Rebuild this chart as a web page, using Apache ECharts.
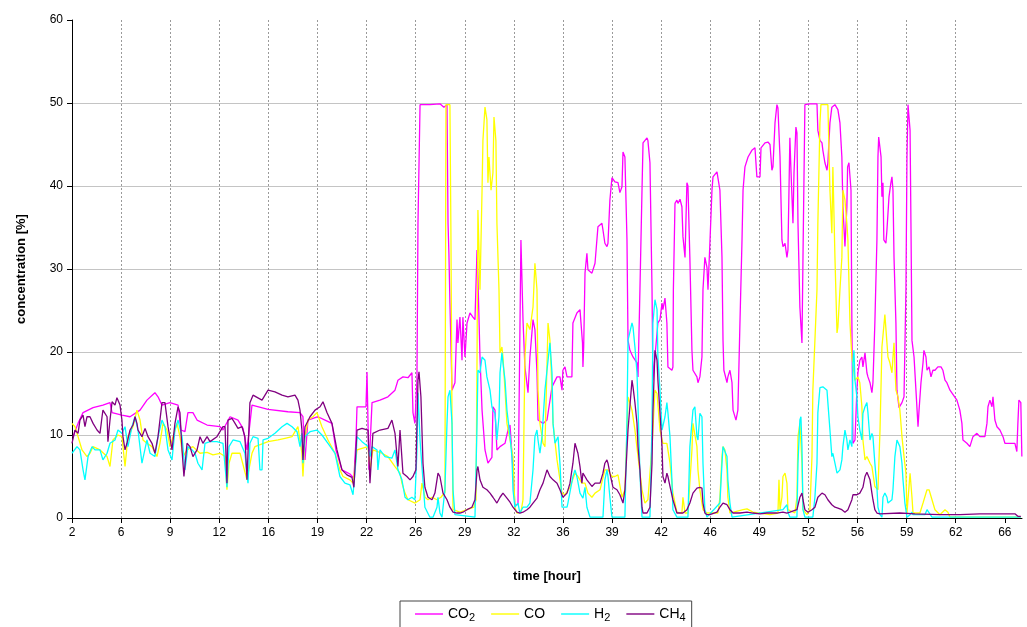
<!DOCTYPE html>
<html>
<head>
<meta charset="utf-8">
<title>Gas concentration over time</title>
<script src="https://cdn.jsdelivr.net/npm/echarts@6/dist/echarts.min.js"></script>
<style>
  html, body { margin: 0; padding: 0; background: #ffffff; }
  #chart { width: 1027px; height: 627px; }
</style>
</head>
<body>
<div id="chart"></div>
<script>
// Tick labels printed under the vertical gridlines (one every 10/3 h)
const tickLabels = ['2', '6', '9', '12', '16', '19', '22', '26', '29', '32', '36', '39', '42', '46', '49', '52', '56', '59', '62', '66'];
const firstTickHour = 2;
const hoursPerTick = 10 / 3;
const lastTickSpan = 19.35; // axis runs a little past the last labelled gridline

const seriesNames = ['CO2', 'CO', 'H2', 'CH4'];
const seriesColors = ['#ff00ff', '#ffff00', '#00ffff', '#800080'];

// [time in hours, concentration in %]
const co2Data = [[2.07,9.8],[2.41,11.4],[2.75,12.7],[3.43,13.3],[4.1,13.6],[4.58,13.9],[4.72,12.7],[5.39,12.4],[5.94,12.2],[6.62,13.0],[7.09,14.2],[7.63,15.1],[7.84,14.6],[8.11,13.6],[8.65,13.9],[9.2,13.6],[9.4,10.6],[9.67,10.4],[9.87,12.7],[10.21,12.7],[10.49,11.8],[11.17,11.2],[12.05,11.0],[12.25,10.6],[12.73,12.2],[13.27,11.8],[13.61,10.8],[13.88,8.2],[14.22,13.6],[15.31,13.1],[16.66,12.8],[17.48,12.7],[17.68,12.2],[17.82,7.0],[18.02,11.8],[18.7,12.2],[19.18,11.8],[19.65,11.4],[19.92,8.2],[20.33,5.8],[20.87,5.3],[21.14,4.8],[21.28,9.4],[21.35,13.4],[21.96,13.4],[22.03,17.6],[22.16,5.8],[22.37,13.9],[22.91,14.2],[23.45,14.6],[23.93,15.4],[24.13,16.6],[24.47,17.0],[24.81,16.9],[25.08,17.5],[25.15,12.7],[25.28,11.4],[25.42,16.6],[25.49,35.5],[25.63,49.8],[26.3,49.8],[26.98,49.9],[27.25,49.5],[27.46,49.8],[27.53,35.5],[27.59,31.9],[27.66,25.9],[27.8,15.4],[28.0,16.3],[28.14,23.9],[28.2,21.1],[28.34,24.2],[28.48,19.0],[28.54,24.2],[28.68,19.4],[28.82,23.5],[29.02,24.7],[29.22,24.2],[29.36,23.9],[29.5,32.3],[29.56,29.0],[29.7,19.4],[29.84,13.0],[30.04,8.2],[30.24,6.6],[30.51,7.3],[30.58,13.4],[30.72,13.0],[30.85,8.2],[31.06,8.6],[31.4,9.0],[31.6,10.6],[31.74,11.2],[31.94,5.8],[32.07,1.6],[32.28,1.6],[32.48,33.5],[32.62,23.9],[32.75,18.2],[32.96,15.1],[33.09,19.4],[33.3,23.9],[33.43,22.7],[33.57,17.5],[33.64,11.8],[33.98,11.4],[34.25,11.8],[34.59,15.8],[34.93,17.0],[35.13,17.0],[35.27,15.4],[35.33,17.8],[35.47,18.2],[35.61,17.0],[35.94,17.0],[36.01,23.5],[36.28,24.7],[36.49,25.1],[36.62,25.1],[36.66,21.1],[36.69,18.2],[36.74,20.6],[36.83,29.5],[36.96,31.9],[37.03,29.9],[37.3,29.5],[37.51,30.7],[37.71,35.1],[37.98,35.5],[38.05,34.7],[38.18,33.1],[38.32,32.7],[38.39,33.1],[38.52,38.3],[38.66,41.0],[38.86,40.5],[39.07,40.4],[39.2,39.2],[39.34,39.9],[39.41,44.1],[39.54,43.5],[39.68,33.5],[39.75,21.4],[39.88,20.2],[40.09,19.4],[40.36,18.7],[40.43,17.0],[40.56,27.5],[40.7,39.5],[40.77,45.2],[41.04,45.8],[41.1,45.5],[41.24,42.8],[41.38,27.5],[41.44,16.6],[41.78,23.5],[41.92,23.9],[42.06,25.9],[42.12,25.1],[42.26,26.5],[42.39,23.5],[42.46,18.2],[42.73,17.8],[42.8,18.2],[42.83,27.5],[42.94,37.9],[43.07,38.3],[43.14,37.9],[43.28,38.4],[43.41,37.5],[43.48,33.9],[43.62,31.4],[43.75,40.4],[43.82,40.0],[43.95,31.4],[44.09,20.2],[44.16,17.8],[44.43,17.0],[44.5,16.3],[44.63,17.0],[44.77,19.4],[44.84,27.5],[44.97,31.4],[45.11,30.2],[45.18,27.5],[45.31,33.1],[45.45,39.5],[45.52,41.1],[45.79,41.7],[45.86,41.6],[45.99,39.5],[46.13,31.4],[46.2,21.4],[46.26,17.8],[46.47,16.3],[46.53,17.0],[46.67,17.8],[46.81,16.3],[46.88,13.0],[47.08,11.8],[47.21,13.0],[47.35,23.5],[47.49,33.5],[47.56,39.5],[47.69,42.3],[47.9,43.5],[48.16,44.3],[48.37,44.6],[48.5,41.1],[48.71,41.1],[48.78,44.6],[49.05,45.2],[49.25,45.3],[49.39,45.0],[49.52,41.9],[49.59,42.3],[49.73,47.6],[49.86,49.8],[49.93,49.4],[50.07,43.5],[50.2,33.5],[50.27,32.7],[50.41,33.1],[50.54,31.4],[50.61,32.3],[50.74,45.8],[50.82,41.6],[50.95,35.5],[51.02,41.6],[51.15,47.1],[51.22,46.4],[51.29,35.5],[51.42,25.4],[51.56,21.1],[51.63,31.4],[51.76,49.8],[52.1,49.9],[52.58,49.9],[52.64,46.7],[52.78,45.5],[52.92,45.2],[52.98,44.3],[53.12,42.8],[53.26,41.9],[53.32,42.8],[53.46,47.6],[53.59,49.5],[53.8,49.8],[54.0,49.2],[54.14,47.6],[54.27,43.5],[54.34,37.5],[54.48,32.7],[54.61,37.5],[54.66,42.3],[54.75,42.8],[54.89,39.5],[54.95,23.5],[55.02,9.0],[55.16,9.4],[55.29,15.4],[55.36,17.5],[55.49,19.0],[55.63,19.4],[55.7,18.2],[55.84,19.9],[55.97,17.5],[56.04,17.0],[56.18,16.3],[56.31,15.1],[56.38,16.3],[56.51,23.5],[56.65,33.5],[56.72,43.5],[56.77,45.9],[56.93,43.5],[56.99,38.7],[57.06,40.4],[57.12,33.5],[57.26,33.1],[57.33,34.7],[57.47,38.7],[57.6,40.4],[57.67,41.1],[57.74,39.5],[57.81,31.4],[57.94,23.5],[58.01,15.4],[58.15,13.3],[58.35,13.9],[58.49,14.6],[58.62,27.5],[58.69,43.5],[58.76,49.8],[58.9,46.7],[58.96,35.5],[59.03,21.4],[59.17,19.4],[59.3,15.4],[59.44,11.0],[59.51,13.0],[59.64,16.3],[59.78,18.7],[59.84,20.2],[59.98,19.4],[60.05,17.8],[60.19,18.2],[60.32,17.0],[60.45,17.8],[60.59,17.8],[60.79,18.2],[61.0,18.2],[61.13,17.8],[61.27,16.6],[61.4,16.3],[61.61,15.4],[62.08,14.2],[62.28,13.0],[62.42,11.4],[62.49,9.4],[62.76,9.0],[62.96,8.6],[63.17,9.8],[63.44,10.2],[63.64,9.8],[63.98,9.8],[64.12,11.4],[64.19,13.4],[64.32,14.2],[64.46,13.4],[64.53,14.6],[64.66,11.8],[64.8,11.0],[65.0,10.6],[65.21,9.8],[65.34,9.0],[65.54,9.0],[65.81,9.0],[66.02,9.0],[66.15,8.0],[66.22,11.4],[66.29,14.2],[66.42,13.9],[66.49,7.4]];

const coData = [[2.0,11.4],[2.2,11.0],[2.41,9.8],[2.68,8.2],[3.02,7.4],[3.22,7.8],[3.43,8.6],[3.9,8.2],[4.38,7.4],[4.58,6.2],[4.78,9.4],[5.12,10.0],[5.39,9.8],[5.6,6.2],[5.8,9.8],[6.14,11.0],[6.41,13.0],[6.62,11.8],[6.82,9.4],[7.09,9.0],[7.43,8.6],[7.77,7.4],[7.97,9.0],[8.18,11.4],[8.45,10.6],[8.65,8.6],[8.86,9.8],[9.13,11.4],[9.33,9.8],[9.54,7.4],[9.81,8.2],[10.21,8.6],[10.69,7.8],[11.17,7.9],[11.57,7.6],[12.05,7.8],[12.39,7.4],[12.52,3.4],[12.66,6.6],[12.86,7.8],[13.41,7.8],[13.88,4.6],[14.22,7.8],[14.42,8.6],[15.31,9.2],[15.99,9.4],[16.46,9.6],[16.94,9.8],[17.14,10.4],[17.34,11.0],[17.61,7.8],[17.68,5.0],[17.82,9.8],[18.02,11.8],[18.36,12.2],[18.63,12.7],[18.97,11.0],[19.38,9.4],[19.86,7.8],[20.19,5.8],[20.4,5.0],[20.87,4.6],[21.08,4.2],[21.35,8.2],[21.69,8.4],[22.1,8.6],[22.23,5.8],[22.43,8.2],[23.04,7.8],[23.45,7.4],[23.93,6.2],[24.27,5.4],[24.4,4.2],[24.61,3.0],[24.81,2.2],[25.29,1.8],[25.63,2.2],[25.76,4.2],[25.96,2.5],[26.17,2.2],[26.44,2.5],[26.78,2.2],[27.05,2.5],[27.32,3.1],[27.39,49.8],[27.66,49.8],[27.73,33.5],[27.8,11.4],[27.87,1.0],[28.34,0.7],[28.82,1.0],[29.29,1.3],[29.43,2.2],[29.5,19.4],[29.56,37.1],[29.7,27.5],[29.84,39.5],[29.9,45.5],[30.04,49.5],[30.17,48.0],[30.24,40.4],[30.31,43.5],[30.45,39.5],[30.58,41.6],[30.65,48.3],[30.78,45.5],[30.85,35.5],[30.99,27.5],[31.06,19.9],[31.19,20.6],[31.26,19.4],[31.4,15.4],[31.53,11.4],[31.74,9.4],[31.94,7.4],[32.07,1.3],[32.21,0.6],[32.48,0.7],[32.62,2.2],[32.75,19.4],[32.89,23.5],[33.09,22.7],[33.3,25.4],[33.43,30.7],[33.57,27.5],[33.64,15.4],[33.77,11.4],[33.98,9.0],[34.11,8.6],[34.32,23.5],[34.45,21.4],[34.59,15.4],[34.66,11.4],[34.93,7.0],[35.27,3.0],[35.47,2.8],[35.81,3.7],[36.15,5.4],[36.35,5.0],[36.62,4.2],[36.83,4.2],[37.03,3.0],[37.3,2.5],[37.51,3.0],[37.85,3.4],[38.18,5.8],[38.39,5.8],[38.66,5.0],[38.86,5.0],[39.07,5.2],[39.34,2.5],[39.54,3.4],[39.68,10.6],[39.75,14.6],[40.02,13.0],[40.22,10.6],[40.43,7.4],[40.7,3.4],[40.9,1.8],[41.1,2.2],[41.38,8.6],[41.58,15.4],[41.72,15.0],[41.92,10.6],[42.12,9.0],[42.39,9.0],[42.6,6.6],[42.8,3.0],[43.07,0.7],[43.41,0.6],[43.48,2.5],[43.62,0.6],[43.82,0.6],[44.09,8.2],[44.16,11.4],[44.43,8.6],[44.5,5.8],[44.63,3.4],[44.84,1.0],[45.11,0.6],[45.52,0.6],[45.86,0.6],[45.99,2.5],[46.13,7.4],[46.2,8.6],[46.33,8.2],[46.47,5.8],[46.53,2.5],[46.67,0.6],[47.56,1.0],[47.83,1.1],[48.23,0.7],[49.39,0.4],[49.93,0.6],[50.0,4.6],[50.07,1.0],[50.2,2.5],[50.27,5.0],[50.41,5.4],[50.54,4.2],[50.61,1.0],[51.08,0.6],[51.22,2.5],[51.29,9.8],[51.42,11.4],[51.56,6.6],[51.63,1.0],[51.9,0.4],[52.1,1.0],[52.24,7.4],[52.3,15.4],[52.44,21.4],[52.58,27.5],[52.64,35.5],[52.78,47.6],[52.85,49.8],[53.32,49.8],[53.46,39.5],[53.59,34.3],[53.66,42.3],[53.8,31.4],[53.94,22.3],[54.0,23.0],[54.14,27.5],[54.27,31.4],[54.34,39.5],[54.48,38.3],[54.61,35.5],[54.68,33.5],[54.82,23.5],[54.95,19.4],[55.16,16.6],[55.36,17.0],[55.49,16.3],[55.63,13.4],[55.7,9.4],[55.84,7.0],[55.97,7.4],[56.18,6.6],[56.31,6.2],[56.51,3.8],[56.72,3.4],[56.86,10.6],[56.99,20.6],[57.19,24.5],[57.33,21.1],[57.4,19.4],[57.53,18.7],[57.67,17.5],[57.74,19.4],[57.81,21.1],[57.94,15.4],[58.08,14.6],[58.21,13.0],[58.35,9.8],[58.49,7.4],[58.62,5.4],[58.69,0.6],[58.9,5.4],[59.03,2.5],[59.1,0.6],[59.57,0.6],[59.78,1.8],[60.05,3.4],[60.19,3.4],[60.39,2.2],[60.59,1.0],[60.93,0.4],[61.27,1.0],[61.47,0.7],[61.61,0.1],[66.42,0.1]];

const h2Data = [[2.0,7.8],[2.34,8.6],[2.54,8.2],[2.75,5.8],[2.88,4.6],[3.09,7.4],[3.36,8.6],[3.56,8.2],[3.9,8.2],[4.1,7.0],[4.38,7.8],[4.58,9.0],[4.92,9.4],[5.12,10.6],[5.39,10.2],[5.6,11.0],[5.8,8.6],[6.07,11.0],[6.28,12.2],[6.48,10.6],[6.75,6.6],[7.09,9.4],[7.3,7.8],[7.63,7.4],[7.84,9.8],[8.11,11.8],[8.31,11.0],[8.52,8.2],[8.79,7.0],[8.99,10.6],[9.2,11.8],[9.47,9.8],[9.67,5.8],[9.87,8.6],[10.15,8.2],[10.35,7.8],[10.55,6.6],[10.83,5.8],[11.03,9.0],[11.37,9.2],[11.84,9.2],[12.25,9.0],[12.52,3.7],[12.66,8.6],[12.93,9.4],[13.41,9.2],[13.74,7.8],[13.95,4.2],[14.08,9.0],[14.29,9.8],[14.63,9.6],[14.76,5.8],[14.9,5.8],[14.97,9.4],[15.31,9.6],[15.78,10.2],[16.26,11.0],[16.6,11.4],[16.94,11.0],[17.28,10.4],[17.48,8.6],[17.61,10.2],[17.68,6.6],[17.82,9.8],[18.16,10.4],[18.63,10.6],[18.97,10.0],[19.38,9.0],[19.86,7.8],[20.19,5.0],[20.53,4.2],[20.87,4.0],[21.08,2.8],[21.28,7.0],[21.35,9.8],[21.69,9.2],[22.1,8.6],[22.23,7.4],[22.37,8.6],[22.71,8.2],[22.77,5.8],[22.91,8.2],[23.25,7.4],[23.72,7.2],[23.93,8.2],[24.13,5.8],[24.4,4.6],[24.61,2.5],[24.81,2.2],[25.08,2.5],[25.28,2.2],[25.42,8.0],[25.49,15.1],[25.63,9.4],[25.76,6.2],[25.96,1.3],[26.3,0.1],[26.51,0.1],[26.78,1.3],[26.85,2.5],[26.98,0.6],[27.12,0.1],[27.32,3.4],[27.46,11.4],[27.53,14.6],[27.66,15.4],[27.8,11.4],[27.87,3.4],[28.0,0.4],[29.36,0.1],[29.5,11.4],[29.56,17.8],[29.7,17.5],[29.84,19.4],[30.04,19.0],[30.17,17.0],[30.38,15.4],[30.51,13.4],[30.58,13.0],[30.72,12.6],[30.85,9.4],[30.99,12.2],[31.06,17.5],[31.19,19.9],[31.26,18.7],[31.4,16.6],[31.53,13.0],[31.74,9.8],[31.87,7.4],[31.94,3.4],[32.07,1.3],[32.28,1.8],[32.41,0.6],[32.62,1.3],[32.89,1.3],[33.09,1.8],[33.3,5.8],[33.43,9.8],[33.57,10.6],[33.64,9.4],[33.77,7.8],[33.91,9.8],[34.11,15.4],[34.25,17.8],[34.45,21.1],[34.59,17.5],[34.66,11.4],[34.79,9.0],[35.0,9.8],[35.13,6.6],[35.27,1.3],[35.61,1.3],[35.67,1.8],[36.01,5.0],[36.15,5.8],[36.28,5.0],[36.49,3.0],[36.69,2.4],[36.83,3.7],[36.96,1.3],[37.17,0.1],[38.05,0.1],[38.18,4.6],[38.32,5.8],[38.39,5.0],[38.52,2.5],[38.66,0.1],[39.54,0.1],[39.68,11.8],[39.75,21.4],[40.02,23.5],[40.09,23.0],[40.22,20.6],[40.36,17.5],[40.43,13.4],[40.56,5.4],[40.7,0.1],[41.24,0.1],[41.38,11.4],[41.44,23.5],[41.58,26.3],[41.72,25.1],[41.78,19.4],[41.92,15.4],[42.06,10.6],[42.26,12.2],[42.39,13.9],[42.46,12.7],[42.6,9.8],[42.73,4.6],[42.8,1.0],[43.07,0.1],[43.82,0.1],[43.95,8.6],[44.16,13.0],[44.29,13.4],[44.43,9.8],[44.5,9.4],[44.63,12.6],[44.77,12.2],[44.84,6.6],[44.97,1.0],[45.11,0.1],[45.99,1.8],[46.13,6.6],[46.2,8.6],[46.33,8.8],[46.47,7.4],[46.53,4.6],[46.67,1.8],[46.81,0.1],[50.27,1.0],[50.54,1.6],[50.61,0.7],[50.74,0.1],[51.22,0.1],[51.29,6.6],[51.42,11.8],[51.49,12.2],[51.56,8.6],[51.63,1.0],[51.76,0.1],[52.3,0.1],[52.44,2.5],[52.58,6.6],[52.64,12.7],[52.78,15.7],[52.98,15.8],[53.26,15.4],[53.32,13.9],[53.46,10.6],[53.59,7.4],[53.66,7.8],[53.8,6.6],[53.94,5.4],[54.0,5.2],[54.14,5.8],[54.27,7.0],[54.34,8.6],[54.48,10.6],[54.61,9.4],[54.68,8.2],[54.82,9.4],[54.95,8.6],[55.02,18.7],[55.09,20.2],[55.16,16.6],[55.29,14.6],[55.36,12.2],[55.49,10.6],[55.63,9.4],[55.7,12.6],[55.84,13.4],[55.97,13.9],[56.04,12.7],[56.18,9.4],[56.31,10.2],[56.38,9.8],[56.51,6.6],[56.65,3.7],[56.72,1.3],[56.86,0.4],[56.99,0.1],[57.06,2.5],[57.19,3.0],[57.33,2.5],[57.4,1.8],[57.53,1.6],[57.67,2.2],[57.74,3.4],[57.87,7.4],[58.01,9.4],[58.08,9.4],[58.21,8.6],[58.35,6.6],[58.42,4.6],[58.55,1.8],[58.69,0.1],[58.9,0.4],[59.03,0.7],[59.1,0.4],[59.91,0.4],[60.05,1.0],[60.12,1.0],[60.39,0.1],[66.42,0.1]];

const ch4Data = [[2.0,9.0],[2.2,10.6],[2.41,10.2],[2.54,11.8],[2.75,12.4],[2.88,11.0],[3.02,12.2],[3.22,12.2],[3.43,11.4],[3.7,10.6],[3.9,10.2],[4.04,12.2],[4.1,13.0],[4.38,12.2],[4.44,9.2],[4.51,9.0],[4.58,11.8],[4.72,14.0],[4.92,13.6],[5.05,14.5],[5.12,14.6],[5.26,13.6],[5.39,11.8],[5.46,9.8],[5.6,8.2],[5.73,9.0],[5.94,10.6],[6.14,11.2],[6.28,12.2],[6.41,11.4],[6.48,10.6],[6.75,9.8],[6.96,10.8],[7.16,9.8],[7.43,9.0],[7.63,7.8],[7.84,9.8],[8.11,13.9],[8.31,13.9],[8.52,11.0],[8.79,8.2],[8.99,11.4],[9.2,13.4],[9.33,12.7],[9.47,8.2],[9.6,5.0],[9.81,9.0],[10.01,8.6],[10.21,7.4],[10.49,8.2],[10.69,9.8],[10.89,9.0],[11.17,9.8],[11.37,9.2],[11.84,9.8],[12.25,11.0],[12.39,11.0],[12.52,4.2],[12.59,11.8],[12.86,12.0],[13.07,11.4],[13.27,10.8],[13.54,11.0],[13.74,9.8],[13.88,4.6],[14.08,13.9],[14.29,14.8],[14.9,14.2],[15.31,15.4],[15.78,15.2],[16.26,14.8],[16.66,14.6],[17.14,14.8],[17.34,14.2],[17.48,13.0],[17.61,10.6],[17.68,7.0],[17.82,11.0],[18.16,12.2],[18.5,13.0],[18.84,13.4],[19.04,14.0],[19.31,12.7],[19.65,11.4],[19.99,8.2],[20.33,5.8],[20.67,5.2],[21.01,4.9],[21.14,3.7],[21.28,8.2],[21.35,10.6],[21.69,10.8],[22.1,10.6],[22.23,4.2],[22.43,10.2],[22.91,10.6],[23.45,10.8],[23.72,11.8],[23.93,10.2],[24.13,6.2],[24.27,10.6],[24.47,5.4],[24.74,5.0],[24.95,4.6],[25.15,5.0],[25.35,5.8],[25.49,16.6],[25.56,17.6],[25.69,14.6],[25.83,6.6],[25.96,3.7],[26.17,2.5],[26.44,2.2],[26.64,3.0],[26.85,5.4],[26.98,5.0],[27.19,3.0],[27.46,2.2],[27.66,1.3],[27.87,0.7],[28.14,0.6],[28.34,0.6],[28.54,0.7],[28.82,1.0],[29.15,1.3],[29.36,2.2],[29.5,5.8],[29.56,6.2],[29.7,4.6],[29.9,3.7],[30.17,3.4],[30.38,3.0],[30.58,2.5],[30.85,1.8],[31.06,2.5],[31.26,3.0],[31.53,2.4],[31.74,1.9],[31.94,1.3],[32.21,0.7],[32.41,0.6],[32.62,0.7],[32.89,1.0],[33.09,1.3],[33.3,1.8],[33.57,2.4],[33.77,3.4],[33.98,4.2],[34.25,5.8],[34.45,5.0],[34.66,4.6],[34.93,4.2],[35.13,3.4],[35.33,2.5],[35.61,3.0],[35.81,4.2],[36.01,6.6],[36.15,9.0],[36.28,8.8],[36.35,7.8],[36.49,6.2],[36.62,4.2],[36.69,5.4],[36.83,5.0],[36.96,4.6],[37.3,3.8],[37.51,4.2],[37.85,4.2],[38.05,5.4],[38.18,6.6],[38.32,7.0],[38.39,6.6],[38.52,5.4],[38.73,3.7],[39.0,3.4],[39.2,2.8],[39.41,1.8],[39.54,3.4],[39.75,10.6],[40.02,16.6],[40.09,15.8],[40.22,13.9],[40.36,11.4],[40.43,8.6],[40.56,5.8],[40.7,1.3],[40.77,0.6],[41.04,0.6],[41.24,1.3],[41.38,6.6],[41.44,12.7],[41.58,20.2],[41.72,19.0],[41.78,16.6],[41.92,12.7],[42.06,8.6],[42.12,5.0],[42.26,4.2],[42.39,5.4],[42.46,5.0],[42.6,3.8],[42.8,2.2],[43.07,0.6],[43.48,0.6],[43.75,1.0],[43.95,1.8],[44.16,3.0],[44.43,3.6],[44.63,3.7],[44.77,3.6],[44.84,1.8],[44.97,0.6],[45.11,0.4],[45.31,0.4],[45.79,0.7],[45.99,1.3],[46.2,1.8],[46.47,1.6],[46.67,1.0],[46.88,0.6],[47.35,0.6],[47.83,0.7],[48.23,0.6],[48.71,0.5],[49.18,0.6],[49.86,0.6],[50.27,0.7],[50.54,0.6],[50.74,0.7],[51.22,1.0],[51.42,2.5],[51.56,3.0],[51.63,2.2],[51.76,1.0],[51.97,0.7],[52.24,1.0],[52.44,1.3],[52.64,2.5],[52.92,3.0],[53.12,2.8],[53.32,2.2],[53.59,1.6],[53.8,1.3],[54.0,1.2],[54.27,1.0],[54.48,0.7],[54.68,1.0],[54.95,2.2],[55.02,2.8],[55.29,2.8],[55.49,3.0],[55.7,3.7],[55.84,5.0],[55.97,5.5],[56.04,5.4],[56.18,4.6],[56.31,3.0],[56.38,2.2],[56.51,1.0],[56.65,0.6],[56.86,0.5],[58.21,0.6],[59.23,0.5],[60.93,0.4],[62.28,0.4],[63.64,0.5],[65.0,0.5],[66.02,0.5],[66.22,0.2],[66.42,0.2]];

const seriesData = [co2Data, coData, h2Data, ch4Data];
const font = 'Liberation Sans, Arial, sans-serif';
const tickIndexes = tickLabels.map((_, i) => i);

// Legend names like "CO2" get a lowered, smaller digit
function chemLabel(name) {
  const m = name.match(/^([A-Za-z]+)(\d*)$/);
  return m[2] ? '{b|' + m[1] + '}{s|' + m[2] + '}' : '{b|' + m[1] + '}';
}

const chart = echarts.init(document.getElementById('chart'), null, { renderer: 'canvas' });

chart.setOption({
  animation: false,
  backgroundColor: '#ffffff',
  grid: { left: 72, right: 5, top: 20, bottom: 109, containLabel: false },
  xAxis: [
    {
      // labelled axis: one unit per gridline
      type: 'value',
      min: 0,
      max: lastTickSpan,
      interval: 1,
      position: 'bottom',
      name: 'time [hour]',
      nameLocation: 'middle',
      nameGap: 52,
      nameTextStyle: { fontFamily: font, fontSize: 13, fontWeight: 'bold', color: '#000' },
      axisLine: { show: true, lineStyle: { color: '#000', width: 1 } },
      axisTick: { show: true, length: 5, customValues: tickIndexes, lineStyle: { color: '#000' } },
      axisLabel: {
        customValues: tickIndexes,
        formatter: v => tickLabels[Math.round(v)] ?? '',
        fontFamily: font, fontSize: 12, color: '#000', margin: 9
      },
      splitLine: {
        show: true, showMinLine: false, showMaxLine: false,
        lineStyle: { color: '#9a9a9a', width: 1, type: [2, 2] }
      }
    },
    {
      // time axis in hours used to place the data
      type: 'value',
      min: firstTickHour,
      max: firstTickHour + lastTickSpan * hoursPerTick,
      show: false
    }
  ],
  yAxis: {
    type: 'value',
    min: 0,
    max: 60,
    interval: 10,
    name: 'concentration [%]',
    nameLocation: 'middle',
    nameGap: 44,
    nameRotate: 90,
    nameTextStyle: { fontFamily: font, fontSize: 13, fontWeight: 'bold', color: '#000' },
    axisLine: { show: true, lineStyle: { color: '#000', width: 1 } },
    axisTick: { show: true, length: 5, lineStyle: { color: '#000' } },
    axisLabel: { fontFamily: font, fontSize: 12, color: '#000', margin: 9 },
    splitLine: { show: true, showMaxLine: false, lineStyle: { color: '#c4c4c4', width: 1 } }
  },
  legend: {
    data: seriesNames,
    left: 400,
    top: 601,
    orient: 'horizontal',
    borderColor: '#444',
    borderWidth: 1,
    padding: [4, 6, 12, 15],
    icon: 'rect',
    itemWidth: 28,
    itemHeight: 1.4,
    itemGap: 16,
    formatter: chemLabel,
    textStyle: {
      fontFamily: font,
      color: '#000',
      rich: {
        b: { fontFamily: font, fontSize: 14, color: '#000', lineHeight: 18 },
        s: { fontFamily: font, fontSize: 11, color: '#000', lineHeight: 18, padding: [7, 0, 0, 0] }
      }
    }
  },
  series: seriesNames.map((name, i) => ({
    name: name,
    type: 'line',
    xAxisIndex: 1,
    data: seriesData[i],
    symbol: 'none',
    showSymbol: false,
    smooth: false,
    color: seriesColors[i],
    lineStyle: { color: seriesColors[i], width: 1.3 },
    z: 2 + i
  }))
});
</script>
</body>
</html>
